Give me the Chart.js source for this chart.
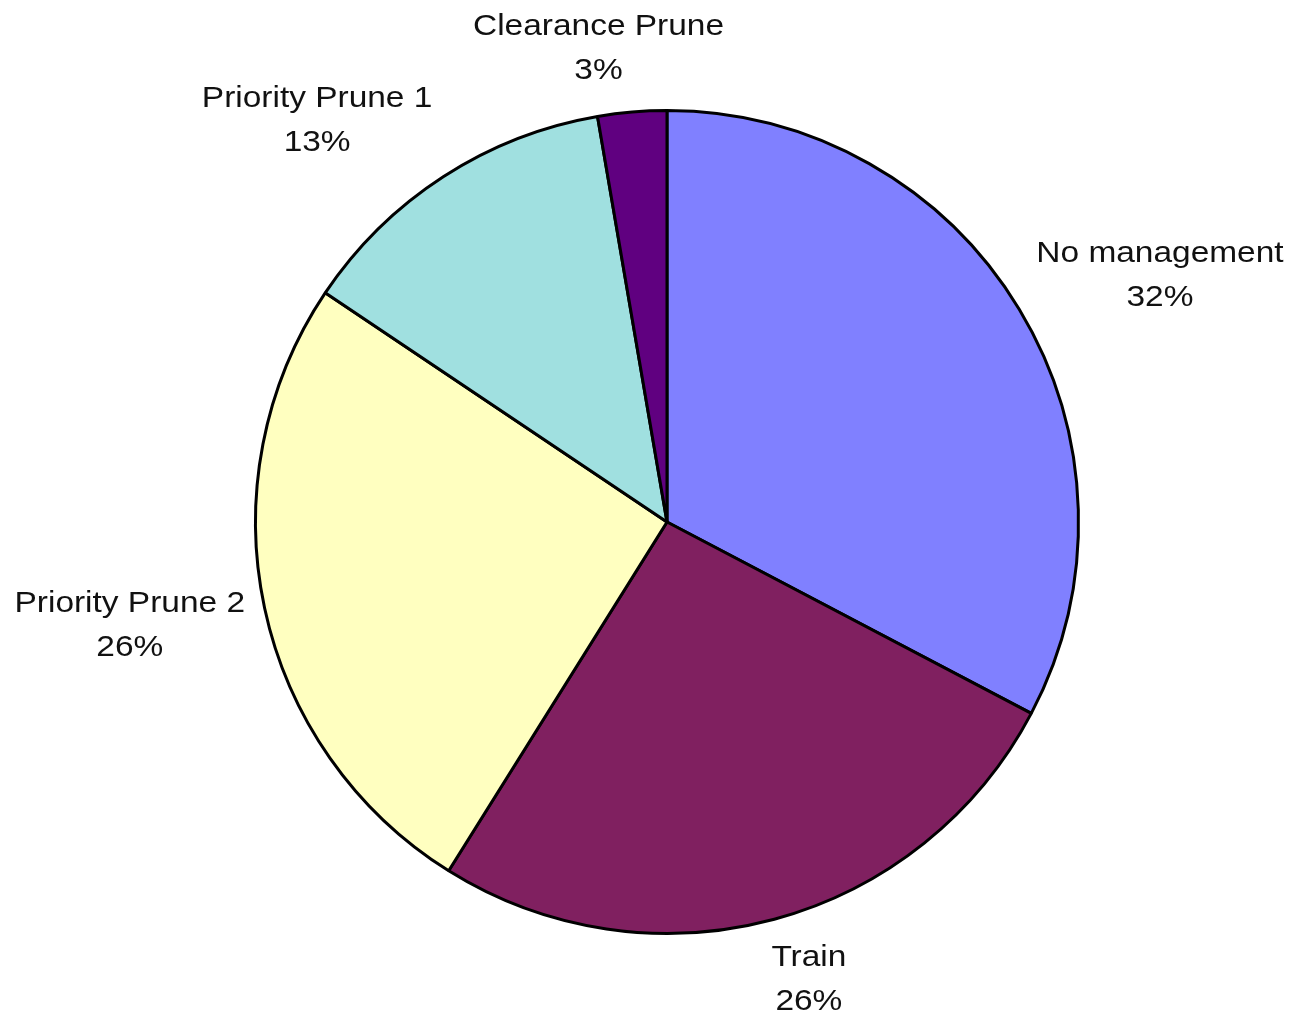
<!DOCTYPE html>
<html>
<head>
<meta charset="utf-8">
<title>Tree management pie</title>
<script src="https://cdn.jsdelivr.net/npm/chart.js@4/dist/chart.umd.min.js"></script>
<style>
  html, body { margin: 0; padding: 0; background: #fff; }
  #wrap { width: 1293px; height: 1015px; position: relative; }
</style>
</head>
<body>
<div id="wrap"><canvas id="pie"></canvas></div>
<script>
// --- chart data ---
const categories = ['No management', 'Train', 'Priority Prune 2', 'Priority Prune 1', 'Clearance Prune'];
const shares = [32.7, 26.2, 25.5, 12.9, 2.7];
const percentLabels = ['32%', '26%', '26%', '13%', '3%'];
const sliceColors = ['#8080FF', '#802060', '#FFFFC0', '#A0E0E0', '#600080'];

(function() {
  'use strict';

  const clamp = (v, lo, hi) => Math.min(hi, Math.max(lo, v));

  // Excel-ish outside labels, two lines, hung off the slice's mid point on the rim
  const outsideLabels = {
    id: 'outsideLabels',
    afterDatasetsDraw(chart) {
      const ctx = chart.ctx;
      const meta = chart.getDatasetMeta(0);
      const fontSize = 30;
      const stretch = 1.115;   // text in the reference is a bit wide
      const lineGap = 44;
      const gap = 20;

      ctx.save();
      ctx.font = fontSize + 'px "Liberation Sans", Arial, sans-serif';
      ctx.fillStyle = '#111';
      ctx.textBaseline = 'alphabetic';
      ctx.textAlign = 'center';

      meta.data.forEach((arc, i) => {
        const p = arc.getProps(['x', 'y', 'startAngle', 'endAngle', 'outerRadius'], true);
        const mid = (p.startAngle + p.endAngle) / 2;
        const dx = Math.cos(mid);
        const dy = Math.sin(mid);

        const lines = [categories[i], percentLabels[i]];
        const w = Math.max(...lines.map(t => ctx.measureText(t).width)) * stretch;
        const h = lineGap + fontSize * 0.75;

        // box corner sits just outside the rim, slides to centred near the axes
        const fx = clamp(dx * 3, -1, 1);
        const fy = clamp(dy * 1.5, -1.4, 1.15);
        const cx = p.x + dx * (p.outerRadius + gap) + fx * w / 2;
        const cy = p.y + dy * (p.outerRadius + gap) + fy * h / 2;

        const firstBase = cy - h / 2 + fontSize * 0.75;
        lines.forEach((t, k) => {
          ctx.save();
          ctx.translate(cx, firstBase + k * lineGap);
          ctx.scale(stretch, 1);
          ctx.fillText(t, 0, 0);
          ctx.restore();
        });
      });
      ctx.restore();
    }
  };

  new Chart(document.getElementById('pie'), {
    type: 'pie',
    data: {
      labels: categories,
      datasets: [{
        data: shares,
        backgroundColor: sliceColors,
        borderColor: '#000',
        borderWidth: 3
      }]
    },
    options: {
      responsive: true,
      maintainAspectRatio: false,
      animation: false,
      layout: {
        padding: { left: 254, right: 213, top: 109, bottom: 80 }
      },
      plugins: {
        legend: { display: false },
        tooltip: { enabled: false }
      }
    },
    plugins: [outsideLabels]
  });
})();
</script>
</body>
</html>
